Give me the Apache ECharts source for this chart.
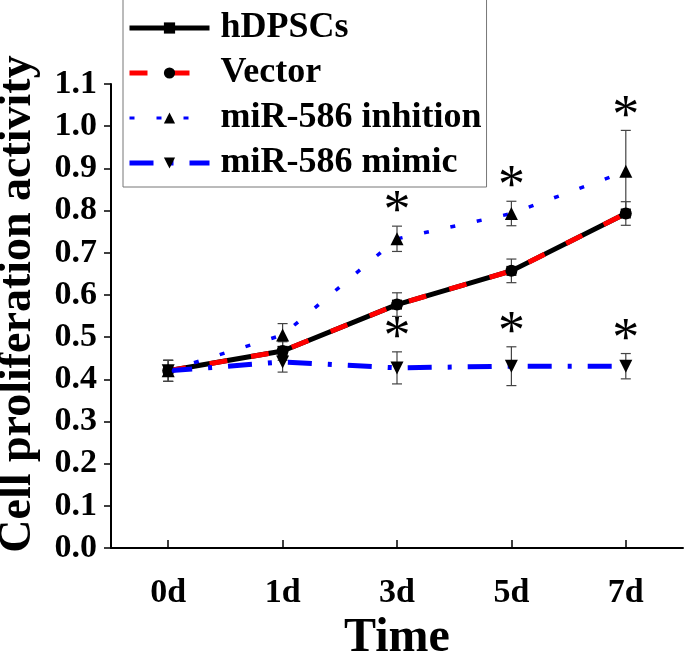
<!DOCTYPE html>
<html>
<head>
<meta charset="utf-8">
<script src="https://cdn.jsdelivr.net/npm/echarts@6/dist/echarts.min.js"></script>
<style>
  html, body { margin: 0; padding: 0; background: #fff; }
  #chart { width: 685px; height: 657px; }
</style>
</head>
<body>
<div id="chart"></div>
<script>
// data
const days = ['0d', '1d', '3d', '5d', '7d'];
const yTicks = [0, 0.1, 0.2, 0.3, 0.4, 0.5, 0.6, 0.7, 0.8, 0.9, 1.0, 1.1];

const hdpscs = [0.420, 0.467, 0.577, 0.657, 0.793];
const hdpscsErr = [0.025, 0.022, 0.028, 0.028, 0.028];
const vector = [0.420, 0.467, 0.577, 0.657, 0.793];
const inhibition = [0.420, 0.505, 0.733, 0.793, 0.893];
const inhibitionErr = [0.025, 0.027, 0.030, 0.029, 0.097];
const inhibitionSig = [false, false, true, true, true];
const mimic = [0.420, 0.441, 0.427, 0.431, 0.431];
const mimicErr = [0.025, 0.024, 0.038, 0.046, 0.030];
const mimicSig = [false, false, true, true, true];

const FONT = "'Times New Roman', 'Liberation Serif', serif";

// error bar rows: [x, low, high, significant]
function errRows(vals, errs, sig) {
  return vals.map((v, i) => [i, v - errs[i], v + errs[i], sig ? (sig[i] ? 1 : 0) : 0]);
}

function renderErr(params, api) {
  const x = api.value(0);
  const lo = api.coord([x, api.value(1)]);
  const hi = api.coord([x, api.value(2)]);
  const cap = 5;
  const st = { stroke: '#444', lineWidth: 1.2 };
  const kids = [
    { type: 'line', shape: { x1: lo[0], y1: lo[1], x2: hi[0], y2: hi[1] }, style: st },
    { type: 'line', shape: { x1: lo[0] - cap, y1: lo[1], x2: lo[0] + cap, y2: lo[1] }, style: st },
    { type: 'line', shape: { x1: hi[0] - cap, y1: hi[1], x2: hi[0] + cap, y2: hi[1] }, style: st }
  ];
  if (api.value(3) === 1) {
    kids.push({
      type: 'text',
      style: {
        text: '*', x: hi[0], y: hi[1] + 14,
        font: '54px ' + FONT, fill: '#000',
        align: 'center', verticalAlign: 'bottom'
      }
    });
  }
  return { type: 'group', children: kids };
}

const chart = echarts.init(document.getElementById('chart'));

const option = {
  backgroundColor: '#fff',
  animation: false,
  grid: { left: 111, right: 2, top: 84, bottom: 109, outerBoundsMode: 'none', containLabel: false },
  legend: {
    orient: 'vertical',
    left: 123, top: -1,
    data: [
      { name: 'hDPSCs', lineStyle: { width: 5 } },
      { name: 'Vector', lineStyle: { width: 5 } },
      { name: 'miR-586 inhition', lineStyle: { width: 3 } },
      { name: 'miR-586 mimic', lineStyle: { width: 5 } }
    ],
    itemWidth: 80, itemHeight: 14, itemGap: 9,
    padding: [11, 5, 6, 4],
    backgroundColor: '#fff',
    borderColor: '#777', borderWidth: 1,
    textStyle: { fontFamily: FONT, fontWeight: 'bold', fontSize: 36, color: '#000', lineHeight: 36, padding: [0, 0, 0, 6] },
    z: 10
  },
  xAxis: {
    type: 'category',
    data: days,
    boundaryGap: true,
    name: 'Time',
    nameLocation: 'middle',
    nameGap: 67,
    nameTextStyle: { fontFamily: FONT, fontWeight: 'bold', fontSize: 48, color: '#000' },
    axisLine: { show: true, lineStyle: { color: '#000', width: 2 } },
    axisTick: { show: true, inside: true, alignWithLabel: true, length: 8, lineStyle: { color: '#000', width: 1.5 } },
    axisLabel: { fontFamily: FONT, fontWeight: 'bold', fontSize: 34, color: '#000', margin: 28 },
    splitLine: { show: false }
  },
  yAxis: {
    type: 'value',
    min: 0, max: 1.1, interval: 0.1,
    name: 'Cell proliferation activity',
    nameLocation: 'middle',
    nameGap: 70,
    nameTextStyle: { fontFamily: FONT, fontWeight: 'bold', fontSize: 46, color: '#000', padding: [0, 0, 0, 24] },
    axisLine: { show: true, lineStyle: { color: '#000', width: 2 } },
    axisTick: { show: true, inside: false, length: 7, lineStyle: { color: '#000', width: 1.5 } },
    axisLabel: {
      fontFamily: FONT, fontWeight: 'bold', fontSize: 34, color: '#000', margin: 14,
      formatter: v => {
        const t = yTicks.find(k => Math.abs(k - v) < 1e-6);
        return (t !== undefined ? t : v).toFixed(1);
      }
    },
    splitLine: { show: false }
  },
  series: [
    { type: 'custom', name: 'errH', renderItem: renderErr, data: errRows(hdpscs, hdpscsErr), z: 1, silent: true },
    { type: 'custom', name: 'errI', renderItem: renderErr, data: errRows(inhibition, inhibitionErr, inhibitionSig), z: 1, silent: true },
    { type: 'custom', name: 'errM', renderItem: renderErr, data: errRows(mimic, mimicErr, mimicSig), z: 1, silent: true },
    {
      name: 'hDPSCs', type: 'line', data: hdpscs, z: 2,
      symbol: 'rect', symbolSize: 10,
      itemStyle: { color: '#000' },
      lineStyle: { color: '#000', width: 5, type: 'solid' }
    },
    {
      name: 'Vector', type: 'line', data: vector, z: 3,
      symbol: 'circle', symbolSize: 12,
      itemStyle: { color: '#000' },
      lineStyle: { color: '#ff0000', width: 5, type: [18, 24] }
    },
    {
      name: 'miR-586 inhition', type: 'line', data: inhibition, z: 4,
      symbol: 'triangle', symbolSize: 13,
      itemStyle: { color: '#000' },
      lineStyle: { color: '#0000ff', width: 3.5, type: [5, 22] }
    },
    {
      name: 'miR-586 mimic', type: 'line', data: mimic, z: 4,
      symbol: 'triangle', symbolRotate: 180, symbolSize: 13,
      itemStyle: { color: '#000' },
      lineStyle: { color: '#0000ff', width: 5, type: [24, 16, 4, 16] }
    }
  ]
};

chart.setOption(option);
</script>
</body>
</html>
